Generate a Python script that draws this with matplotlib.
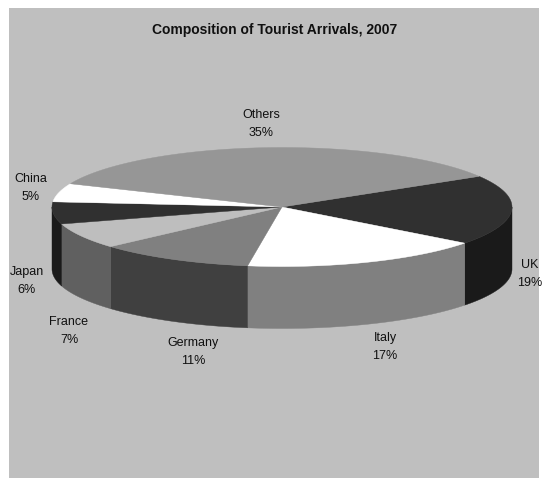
import numpy as np
import matplotlib
matplotlib.use('Agg')
import matplotlib.pyplot as plt
from matplotlib.patches import Polygon, Rectangle

plt.rcParams['font.family'] = ['Liberation Sans', 'DejaVu Sans']

# Slices run clockwise starting from the UK.
labels = ['UK', 'Italy', 'Germany', 'France', 'Japan', 'China', 'Others']
shares = [19, 17, 11, 7, 6, 5, 35]
top_colors = ['#303030', '#ffffff', '#808080', '#bebebe', '#303030', '#ffffff', '#969696']
side_colors = ['#1a1a1a', '#808080', '#404040', '#606060', '#1a1a1a', '#ffffff', '#969696']
label_pos = [(530, 274), (385, 347), (193, 352), (69, 331), (27, 281), (31, 188), (261, 124)]

W, H = 543, 478
CX, CY = 282, 207
RX, RY = 230, 59.5
DEPTH = 62
START = 31


def rim(a0, a1):
    t = np.radians(np.linspace(a0, a1, 120))
    return CX + RX * np.cos(t), CY - RY * np.sin(t)


fig = plt.figure(figsize=(W / 100, H / 100), dpi=100, facecolor='white')
ax = fig.add_axes([0, 0, 1, 1])
ax.set_xlim(0, W)
ax.set_ylim(H, 0)
ax.axis('off')

ax.add_patch(Rectangle((9, 8), 530, 470, facecolor='#bfbfbf', edgecolor='none'))

# Slice edges in degrees, going clockwise.
edges = START - np.cumsum([0] + shares) * 3.6

# Outer wall only shows on the front half of the ellipse.
for i in range(len(shares)):
    a0 = min(edges[i], 0)
    a1 = max(edges[i + 1], -180)
    if a0 <= a1:
        continue
    x, y = rim(a0, a1)
    wall = np.vstack([np.column_stack([x, y]), np.column_stack([x[::-1], y[::-1] + DEPTH])])
    ax.add_patch(Polygon(wall, closed=True, facecolor=side_colors[i],
                         edgecolor=side_colors[i], linewidth=0.3))

# Top face.
for i in range(len(shares)):
    x, y = rim(edges[i], edges[i + 1])
    pts = np.vstack([[CX, CY], np.column_stack([x, y])])
    ax.add_patch(Polygon(pts, closed=True, facecolor=top_colors[i],
                         edgecolor=top_colors[i], linewidth=0.3))

for name, share, (px, py) in zip(labels, shares, label_pos):
    ax.text(px, py, f'{name}\n{share}%', ha='center', va='center', fontsize=9,
            linespacing=1.65, color='#101010')

ax.text(275, 30, 'Composition of Tourist Arrivals, 2007', ha='center', va='center',
        fontsize=10, fontweight='bold', color='#101010')

fig.savefig('out.png', dpi=100)
